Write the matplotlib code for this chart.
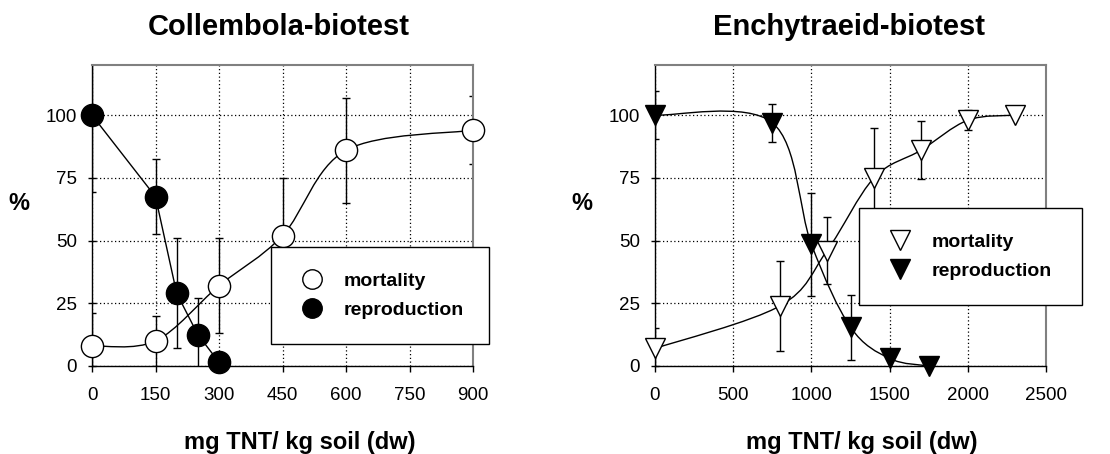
import numpy as np
import matplotlib
matplotlib.use("Agg")
import matplotlib.pyplot as plt
from matplotlib.path import Path
from matplotlib.patches import PathPatch
from matplotlib.lines import Line2D

plt.rcParams['font.family'] = ['Liberation Sans', 'DejaVu Sans']

# Collembola data
col_x_mort = [0, 150, 300, 450, 600, 900]
col_mort = [8, 10, 32, 52, 86, 94]
col_mort_err = [13, 10, 19, 23, 21, 13.5]
col_x_rep = [0, 150, 200, 250, 300]
col_rep = [100, 67.5, 29, 12.5, 1.5]
col_rep_err = [30.5, 15, 22, 14.5, 0]

# Enchytraeid data
enc_x_mort = [0, 800, 1100, 1400, 1700, 2000, 2300]
enc_mort = [7, 24, 46, 75, 86, 98, 100]
enc_mort_err = [8, 18, 13.5, 20, 11.5, 4, 0]
enc_x_rep = [0, 750, 1000, 1250, 1500, 1750]
enc_rep = [100, 97, 48.5, 15.5, 3, 0]
enc_rep_err = [9.5, 7.5, 20.5, 13, 0, 0]

yticks = [0, 25, 50, 75, 100]
col_xticks = [0, 150, 300, 450, 600, 750, 900]
enc_xticks = [0, 500, 1000, 1500, 2000, 2500]


def smooth_path(x, y):
    # Excel-like smoothed line (Catmull-Rom as cubic Bezier)
    pts = np.column_stack([x, y]).astype(float)
    n = len(pts)
    verts = [pts[0]]
    codes = [Path.MOVETO]
    for i in range(n - 1):
        p0 = pts[i - 1] if i > 0 else pts[i]
        p1 = pts[i]
        p2 = pts[i + 1]
        p3 = pts[i + 2] if i + 2 < n else pts[i + 1]
        verts += [p1 + (p2 - p0) / 6, p2 - (p3 - p1) / 6, p2]
        codes += [Path.CURVE4] * 3
    return Path(verts, codes)


def style_axes(ax, xticks, xmax):
    ax.set_xlim(0, xmax)
    ax.set_ylim(0, 120)
    ax.set_xticks(xticks)
    ax.set_yticks(yticks)
    ax.grid(True, color='black', linestyle=(0, (1, 2)), linewidth=0.9)
    ax.set_axisbelow(True)
    for s in ['top', 'right']:
        ax.spines[s].set_color('#808080')
        ax.spines[s].set_linewidth(1.5)
    for s in ['left', 'bottom']:
        ax.spines[s].set_color('black')
        ax.spines[s].set_linewidth(1.0)
    ax.tick_params(axis='x', direction='out', length=4, width=1, labelsize=13.5, pad=11)
    ax.tick_params(axis='y', direction='inout', length=6, width=1, labelsize=13.5, pad=8)


fig = plt.figure(figsize=(11.1, 4.54), dpi=100)
ax1 = fig.add_axes([92 / 1110, 88 / 454, 381 / 1110, 301 / 454])
ax2 = fig.add_axes([655 / 1110, 88 / 454, 391 / 1110, 301 / 454])

# left panel
style_axes(ax1, col_xticks, 900)
ax1.add_patch(PathPatch(smooth_path(col_x_mort, col_mort), fill=False, lw=1, edgecolor='black', zorder=3))
ax1.plot(col_x_rep, col_rep, color='black', lw=1, zorder=3)
ax1.errorbar(col_x_mort, col_mort, yerr=col_mort_err, fmt='none', ecolor='black', elinewidth=1, capsize=3, zorder=2)
ax1.errorbar(col_x_rep, col_rep, yerr=col_rep_err, fmt='none', ecolor='black', elinewidth=1, capsize=3, zorder=2)
ax1.plot(col_x_mort, col_mort, 'o', ms=16, mfc='white', mec='black', mew=1, clip_on=False, zorder=5)
ax1.plot(col_x_rep, col_rep, 'o', ms=16, mfc='black', mec='black', mew=1, clip_on=False, zorder=6)

# right panel
style_axes(ax2, enc_xticks, 2500)
ax2.add_patch(PathPatch(smooth_path(enc_x_mort, enc_mort), fill=False, lw=1, edgecolor='black', zorder=3))
ax2.add_patch(PathPatch(smooth_path(enc_x_rep, enc_rep), fill=False, lw=1, edgecolor='black', zorder=3))
ax2.errorbar(enc_x_mort, enc_mort, yerr=enc_mort_err, fmt='none', ecolor='black', elinewidth=1, capsize=3, zorder=2)
ax2.errorbar(enc_x_rep, enc_rep, yerr=enc_rep_err, fmt='none', ecolor='black', elinewidth=1, capsize=3, zorder=2)
ax2.plot(enc_x_mort, enc_mort, 'v', ms=15, mfc='white', mec='black', mew=1, clip_on=False, zorder=5)
ax2.plot(enc_x_rep, enc_rep, 'v', ms=15, mfc='black', mec='black', mew=1, clip_on=False, zorder=6)

# titles and labels
fig.text(279 / 1110, 1 - 27 / 454, 'Collembola-biotest', ha='center', va='center', fontsize=21, fontweight='bold')
fig.text(849 / 1110, 1 - 27 / 454, 'Enchytraeid-biotest', ha='center', va='center', fontsize=21, fontweight='bold')
fig.text(300 / 1110, 1 - 442 / 454, 'mg TNT/ kg soil (dw)', ha='center', va='center', fontsize=17, fontweight='bold')
fig.text(862 / 1110, 1 - 442 / 454, 'mg TNT/ kg soil (dw)', ha='center', va='center', fontsize=17, fontweight='bold')
fig.text(19 / 1110, 1 - 204 / 454, '%', ha='center', va='center', fontsize=17, fontweight='bold')
fig.text(582 / 1110, 1 - 204 / 454, '%', ha='center', va='center', fontsize=17, fontweight='bold')


# legends
def add_legend(handles, x0, top, width):
    leg = fig.legend(handles, ['mortality', 'reproduction'], loc='upper left',
                     bbox_to_anchor=(x0 / 1110, 1 - top / 454 - 0.01, width / 1110, 0.01),
                     mode='expand', fancybox=False, framealpha=1, edgecolor='black',
                     prop={'weight': 'bold', 'size': 14}, borderpad=1.3, labelspacing=0.6,
                     handlelength=1.6, handletextpad=0.85, borderaxespad=0)
    leg.get_frame().set_linewidth(1.0)
    leg.set_zorder(10)


add_legend([Line2D([], [], ls='none', marker='o', ms=14, mfc='white', mec='black'),
            Line2D([], [], ls='none', marker='o', ms=14, mfc='black', mec='black')], 271, 247, 218)
add_legend([Line2D([], [], ls='none', marker='v', ms=14, mfc='white', mec='black'),
            Line2D([], [], ls='none', marker='v', ms=14, mfc='black', mec='black')], 859, 208, 223)

fig.savefig('out.png', dpi=100)
